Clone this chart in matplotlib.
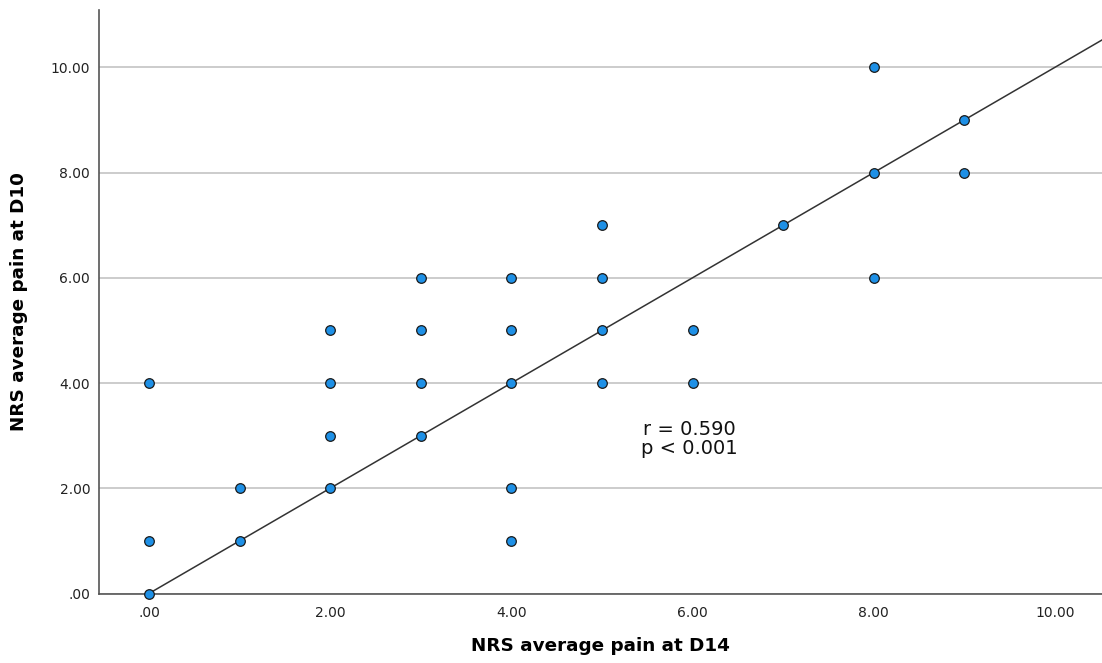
import matplotlib
matplotlib.use("Agg")
import matplotlib.pyplot as plt
import numpy as np

x_d14 = [0, 0, 0, 1, 1, 2, 2, 2, 2, 3, 3, 3, 3, 4, 4, 4, 4, 4, 5, 5, 5, 5, 6, 6, 7, 8, 8, 8, 9, 9]
y_d10 = [4, 1, 0, 2, 1, 5, 4, 3, 2, 6, 5, 4, 3, 6, 5, 4, 2, 1, 7, 6, 5, 4, 5, 4, 7, 10, 8, 6, 9, 8]
ticks = [0, 2, 4, 6, 8, 10]
tick_labels = [".00", "2.00", "4.00", "6.00", "8.00", "10.00"]
fit_x = [0, 10.6]
fit_y = [0, 10.6]

fig = plt.figure(figsize=(11.02, 6.63), dpi=100)
ax = fig.add_axes([98.5/1102, (663-593.5)/663, (1102-98.5)/1102, (593.5-10)/663])
ax.set_xlim(-0.557, 10.52)
ax.set_ylim(0, 11.09)

ax.set_yticks(ticks)
ax.set_yticklabels(tick_labels)
ax.set_xticks(ticks)
ax.set_xticklabels(tick_labels)
ax.tick_params(length=0, labelsize=10, colors="#222222")
ax.tick_params(axis="y", pad=6)
ax.tick_params(axis="x", pad=9)
for t in ticks:
    ax.axhline(t, color="#c8c8c8", lw=1.3, zorder=1)

for s in ["top", "right"]:
    ax.spines[s].set_visible(False)
for s in ["left", "bottom"]:
    ax.spines[s].set_color("#555555")
    ax.spines[s].set_linewidth(1.2)
    ax.spines[s].set_zorder(2)

ax.plot(fit_x, fit_y, color="#333333", lw=1.1, zorder=3, clip_on=True)
ax.scatter(x_d14, y_d10, s=48, facecolor="#1e90e6", edgecolor="#1a1a1a", linewidth=0.9, zorder=4, clip_on=False)

ax.text(5.97, 2.94, "r = 0.590\np < 0.001", ha="center", va="center", fontsize=14, color="#111111", linespacing=1.0)

ax.set_xlabel("NRS average pain at D14", fontsize=13.2, fontweight="bold", labelpad=12)
ax.set_ylabel("NRS average pain at D10", fontsize=13.2, fontweight="bold", labelpad=16)

fig.savefig("out.png", dpi=100)
